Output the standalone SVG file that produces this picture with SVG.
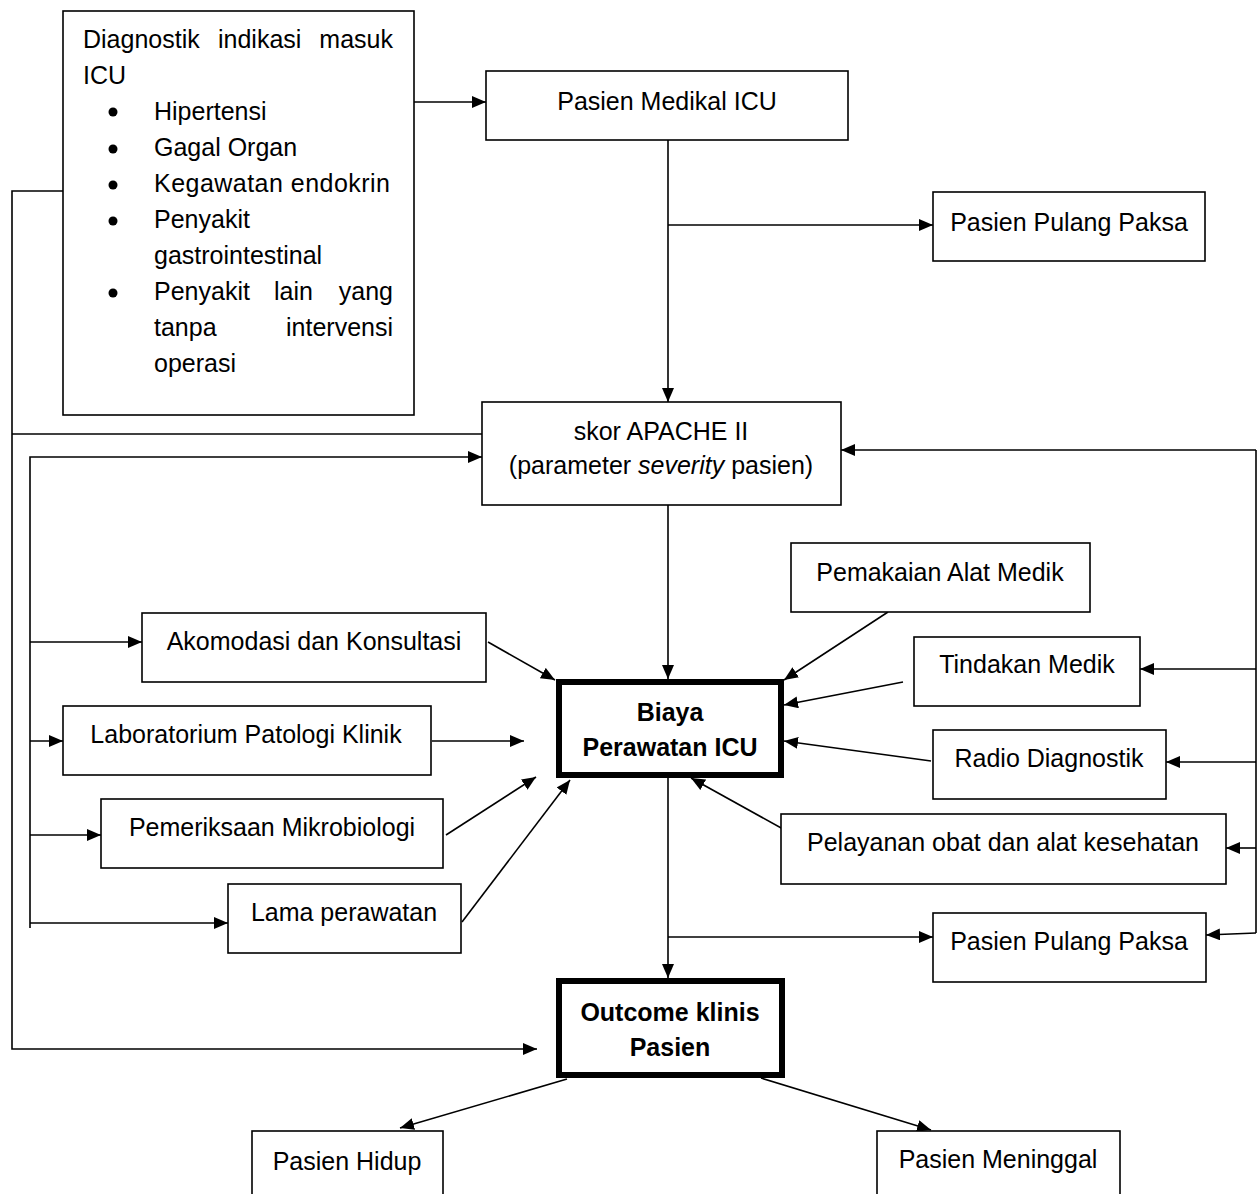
<svg xmlns="http://www.w3.org/2000/svg" width="1258" height="1194" viewBox="0 0 1258 1194">
<defs>
<marker id="ah" markerUnits="userSpaceOnUse" markerWidth="15" markerHeight="13" refX="14" refY="6" orient="auto">
<path d="M0,0 L14,6 L0,12 z" fill="#000"/>
</marker>
<style>
.box{fill:#fff;stroke:#000;stroke-width:1.6}
.thick{fill:#fff;stroke:#000;stroke-width:6}
.t{font-family:"Liberation Sans",Arial,sans-serif;font-size:25px;fill:#000}
.b{font-weight:bold}
.c{fill:none;stroke:#000;stroke-width:1.6}
.a{marker-end:url(#ah)}
</style>
</defs>
<rect width="1258" height="1194" fill="#fff"/>

<g id="connectors">
<path class="c a" d="M414,102 H486"/>
<path class="c a" d="M668,140 V402"/>
<path class="c a" d="M668,225 H933"/>
<path class="c a" d="M63,191 H12 V1049 H537"/>
<path class="c" d="M12,434 H482"/>
<path class="c a" d="M30,928 V457 H482"/>
<path class="c a" d="M30,642 H142"/>
<path class="c a" d="M30,741 H63"/>
<path class="c a" d="M30,835 H101"/>
<path class="c a" d="M30,923 H228"/>
<path class="c a" d="M488,642 L555,680"/>
<path class="c a" d="M432,741 H524"/>
<path class="c a" d="M446,835 L536,777"/>
<path class="c a" d="M462,922 L570,780"/>
<path class="c a" d="M668,505 V679"/>
<path class="c a" d="M888,612 L784,680"/>
<path class="c a" d="M903,682 L784,705"/>
<path class="c a" d="M931,761 L784,741"/>
<path class="c a" d="M792,834 L691,778"/>
<path class="c" d="M1256,450 V933"/>
<path class="c a" d="M1256,450 H841"/>
<path class="c a" d="M1256,669 H1140"/>
<path class="c a" d="M1256,762 H1166"/>
<path class="c a" d="M1256,848 H1226"/>
<path class="c a" d="M1256,933 L1206,935"/>
<path class="c a" d="M668,778 V978"/>
<path class="c a" d="M668,937 H933"/>
<path class="c a" d="M567,1079 L400,1128"/>
<path class="c a" d="M761,1078 L931,1130"/>
</g>

<g id="diagnostik">
<rect class="box" x="63" y="11" width="351" height="404"/>
<text class="t" x="83" y="48">Diagnostik</text>
<text class="t" x="218" y="48">indikasi</text>
<text class="t" x="393" y="48" text-anchor="end">masuk</text>
<text class="t" x="83" y="84">ICU</text>
<g fill="#000">
<circle cx="113" cy="112" r="4.5"/>
<circle cx="113" cy="149" r="4.5"/>
<circle cx="113" cy="185" r="4.5"/>
<circle cx="113" cy="221" r="4.5"/>
<circle cx="113" cy="293" r="4.5"/>
</g>
<text class="t" x="154" y="120">Hipertensi</text>
<text class="t" x="154" y="156">Gagal Organ</text>
<text class="t" x="154" y="192" textLength="236">Kegawatan endokrin</text>
<text class="t" x="154" y="228">Penyakit</text>
<text class="t" x="154" y="264">gastrointestinal</text>
<text class="t" x="154" y="300">Penyakit</text>
<text class="t" x="274" y="300">lain</text>
<text class="t" x="393" y="300" text-anchor="end">yang</text>
<text class="t" x="154" y="336">tanpa</text>
<text class="t" x="393" y="336" text-anchor="end">intervensi</text>
<text class="t" x="154" y="372">operasi</text>
</g>

<g id="medikal">
<rect class="box" x="486" y="71" width="362" height="69"/>
<text class="t" x="667" y="110" text-anchor="middle">Pasien Medikal ICU</text>
</g>

<g id="pulang1">
<rect class="box" x="933" y="192" width="272" height="69"/>
<text class="t" x="1069" y="231" text-anchor="middle">Pasien Pulang Paksa</text>
</g>

<g id="apache">
<rect class="box" x="482" y="402" width="359" height="103"/>
<text class="t" x="661" y="440" text-anchor="middle">skor APACHE II</text>
<text class="t" x="661" y="474" text-anchor="middle">(parameter <tspan font-style="italic">severity</tspan> pasien)</text>
</g>

<g id="pemakaian">
<rect class="box" x="791" y="543" width="299" height="69"/>
<text class="t" x="940" y="581" text-anchor="middle">Pemakaian Alat Medik</text>
</g>

<g id="tindakan">
<rect class="box" x="914" y="637" width="226" height="69"/>
<text class="t" x="1027" y="673" text-anchor="middle">Tindakan Medik</text>
</g>

<g id="radio">
<rect class="box" x="933" y="730" width="233" height="69"/>
<text class="t" x="1049" y="767" text-anchor="middle">Radio Diagnostik</text>
</g>

<g id="pelayanan">
<rect class="box" x="781" y="814" width="445" height="70"/>
<text class="t" x="1003" y="851" text-anchor="middle">Pelayanan obat dan alat kesehatan</text>
</g>

<g id="pulang2">
<rect class="box" x="933" y="913" width="273" height="69"/>
<text class="t" x="1069" y="950" text-anchor="middle">Pasien Pulang Paksa</text>
</g>

<g id="akomodasi">
<rect class="box" x="142" y="613" width="344" height="69"/>
<text class="t" x="314" y="650" text-anchor="middle">Akomodasi dan Konsultasi</text>
</g>

<g id="laboratorium">
<rect class="box" x="63" y="706" width="368" height="69"/>
<text class="t" x="246" y="743" text-anchor="middle">Laboratorium Patologi Klinik</text>
</g>

<g id="mikrobiologi">
<rect class="box" x="101" y="799" width="342" height="69"/>
<text class="t" x="272" y="836" text-anchor="middle">Pemeriksaan Mikrobiologi</text>
</g>

<g id="lama">
<rect class="box" x="228" y="884" width="233" height="69"/>
<text class="t" x="344" y="921" text-anchor="middle">Lama perawatan</text>
</g>

<g id="biaya">
<rect class="thick" x="559" y="682" width="222" height="93"/>
<text class="t b" x="670" y="721" text-anchor="middle">Biaya</text>
<text class="t b" x="670" y="756" text-anchor="middle">Perawatan ICU</text>
</g>

<g id="outcome">
<rect class="thick" x="559" y="981" width="223" height="94"/>
<text class="t b" x="670" y="1021" text-anchor="middle">Outcome klinis</text>
<text class="t b" x="670" y="1056" text-anchor="middle">Pasien</text>
</g>

<g id="hidup">
<rect class="box" x="252" y="1131" width="191" height="90"/>
<text class="t" x="347" y="1170" text-anchor="middle">Pasien Hidup</text>
</g>

<g id="meninggal">
<rect class="box" x="877" y="1131" width="243" height="90"/>
<text class="t" x="998" y="1168" text-anchor="middle">Pasien Meninggal</text>
</g>
</svg>
